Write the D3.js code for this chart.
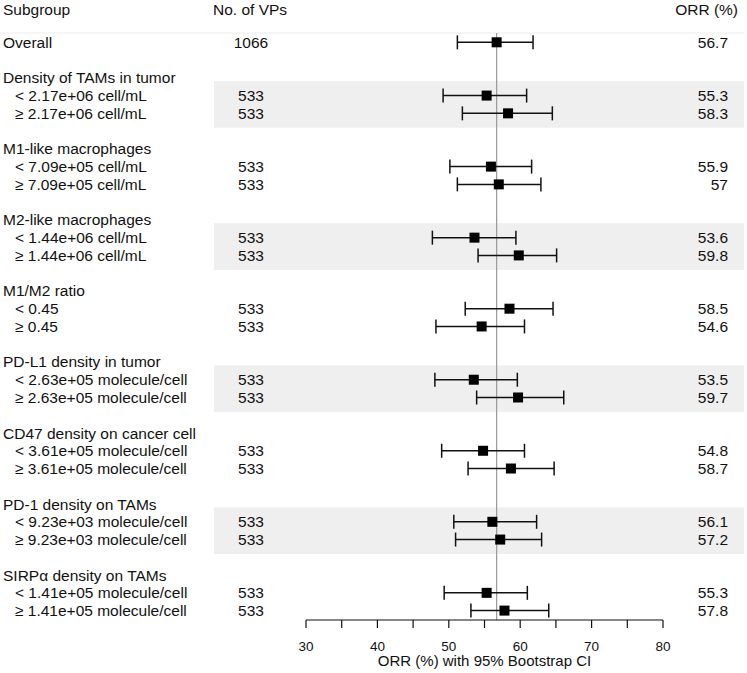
<!DOCTYPE html>
<html><head><meta charset="utf-8">
<script src="https://cdn.jsdelivr.net/npm/d3@7/dist/d3.min.js"></script>
<style>body{margin:0;background:#fff}svg{display:block}text{font-family:"Liberation Sans",Arial,sans-serif;fill:#111}</style>
</head><body><svg id="c" width="747" height="673"></svg>
<script>
// ---- data ----
const groupTitles = ["Density of TAMs in tumor","M1-like macrophages","M2-like macrophages","M1/M2 ratio","PD-L1 density in tumor","CD47 density on cancer cell","PD-1 density on TAMs","SIRPα density on TAMs"];
const subLabels = [
 "< 2.17e+06 cell/mL","≥ 2.17e+06 cell/mL",
 "< 7.09e+05 cell/mL","≥ 7.09e+05 cell/mL",
 "< 1.44e+06 cell/mL","≥ 1.44e+06 cell/mL",
 "< 0.45","≥ 0.45",
 "< 2.63e+05 molecule/cell","≥ 2.63e+05 molecule/cell",
 "< 3.61e+05 molecule/cell","≥ 3.61e+05 molecule/cell",
 "< 9.23e+03 molecule/cell","≥ 9.23e+03 molecule/cell",
 "< 1.41e+05 molecule/cell","≥ 1.41e+05 molecule/cell"];
const overallN = 1066, overallORR = 56.7, overallLo = 51.2, overallHi = 61.8;
const subN = [533,533,533,533,533,533,533,533,533,533,533,533,533,533,533,533];
const subORR = [55.3,58.3,55.9,57,53.6,59.8,58.5,54.6,53.5,59.7,54.8,58.7,56.1,57.2,55.3,57.8];
const subLo = [49.2,51.9,50.15,51.2,47.7,54.1,52.3,48.2,48.05,53.9,49.0,52.7,50.7,50.95,49.35,53.1];
const subHi = [60.9,64.5,61.6,62.9,59.4,65.1,64.6,60.6,59.6,66.1,60.6,64.75,62.3,63.0,61.0,64.0];
const xTicks = [30,35,40,45,50,55,60,65,70,75,80];
const xTickLabels = [30,40,50,60,70,80];
const headers = ["Subgroup","No. of VPs","ORR (%)"];
const axisTitle = "ORR (%) with 95% Bootstrap CI";

// ---- rows ----
const rows = [];
rows.push({row:0,label:"Overall",indent:false,n:overallN,orr:overallORR,lo:overallLo,hi:overallHi});
groupTitles.forEach((g,gi)=>{
  const base = 2 + gi*4;
  rows.push({row:base,label:g,indent:false,title:true});
  for(let k=0;k<2;k++){
    const j = gi*2+k;
    rows.push({row:base+1+k,label:subLabels[j],indent:true,n:subN[j],orr:subORR[j],lo:subLo[j],hi:subHi[j],shade:gi%2===0});
  }
});

const svg = d3.select("#c");
const x = d3.scaleLinear().domain([30,80]).range([306,663]);
const y = d3.scaleLinear().domain([0,32]).range([42.3,610.6]);
const fs = 15.5;

// shaded bands
groupTitles.forEach((g,gi)=>{
  if(gi%2!==0) return;
  const base = 2+gi*4;
  const c = (y(base+1)+y(base+2))/2;
  svg.append("rect").attr("x",214).attr("width",530).attr("y",c-23.3).attr("height",46.6).attr("fill","#efefef");
});

// header line
svg.append("line").attr("x1",0).attr("x2",744).attr("y1",33).attr("y2",33).attr("stroke","#ececec").attr("stroke-width",1);

// headers
svg.append("text").attr("x",3).attr("y",14.5).attr("font-size",fs).text(headers[0]);
svg.append("text").attr("x",213).attr("y",14.5).attr("font-size",fs).text(headers[1]);
svg.append("text").attr("x",738).attr("y",14.5).attr("font-size",fs).attr("text-anchor","end").text(headers[2]);

// reference line
svg.append("line").attr("x1",x(overallORR)).attr("x2",x(overallORR)).attr("y1",33).attr("y2",620).attr("stroke","#999").attr("stroke-width",1.2);

// labels
svg.selectAll("text.lab").data(rows).join("text").attr("class","lab")
  .attr("x",d=>d.indent?15:3).attr("y",d=>y(d.row)+5.5).attr("font-size",fs).text(d=>d.label);
const dataRows = rows.filter(d=>!d.title);
svg.selectAll("text.n").data(dataRows).join("text").attr("class","n")
  .attr("x",251).attr("y",d=>y(d.row)+5.5).attr("font-size",fs).attr("text-anchor","middle").text(d=>d.n);
svg.selectAll("text.orr").data(dataRows).join("text").attr("class","orr")
  .attr("x",728).attr("y",d=>y(d.row)+5.5).attr("font-size",fs).attr("text-anchor","end").text(d=>d.orr);

// CIs
const g = svg.append("g").attr("stroke","#111").attr("stroke-width",1.5);
dataRows.forEach(d=>{
  const cy = y(d.row);
  g.append("line").attr("x1",x(d.lo)).attr("x2",x(d.hi)).attr("y1",cy).attr("y2",cy);
  g.append("line").attr("x1",x(d.lo)).attr("x2",x(d.lo)).attr("y1",cy-7).attr("y2",cy+7);
  g.append("line").attr("x1",x(d.hi)).attr("x2",x(d.hi)).attr("y1",cy-7).attr("y2",cy+7);
});
svg.selectAll("rect.pt").data(dataRows).join("rect").attr("class","pt")
  .attr("x",d=>x(d.orr)-5).attr("y",d=>y(d.row)-5).attr("width",10).attr("height",10).attr("fill","#000");

// axis
const ax = svg.append("g").attr("transform","translate(0,620)");
ax.append("line").attr("x1",x(30)).attr("x2",x(80)).attr("stroke","#111").attr("stroke-width",1.2);
ax.selectAll("line.t").data(xTicks).join("line").attr("class","t")
  .attr("x1",d=>x(d)).attr("x2",d=>x(d)).attr("y1",0).attr("y2",8).attr("stroke","#111").attr("stroke-width",1.2);
ax.selectAll("text.tl").data(xTickLabels).join("text").attr("class","tl")
  .attr("x",d=>x(d)).attr("y",30.5).attr("text-anchor","middle").attr("font-size",13.5).text(d=>d);
svg.append("text").attr("x",(x(30)+x(80))/2).attr("y",666).attr("text-anchor","middle").attr("font-size",15).text(axisTitle);
</script></body></html>
